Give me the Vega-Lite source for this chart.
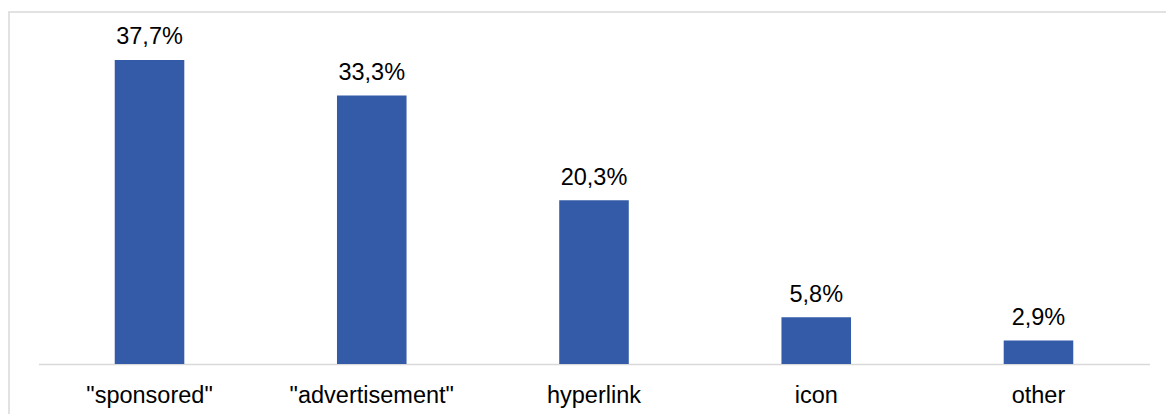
{
  "$schema": "https://vega.github.io/schema/vega-lite/v6.json",
  "width": 1167,
  "height": 412,
  "autosize": {"type": "none"},
  "padding": {"left": 9, "top": 12, "right": -10, "bottom": -10},
  "background": "white",
  "config": {
    "view": {"stroke": "#d9d9d9", "strokeWidth": 1.5},
    "font": "Liberation Sans",
    "locale": {
      "number": {"decimal": ",", "thousands": ".", "grouping": [3], "currency": ["", " €"]}
    }
  },
  "data": {
    "values": [
      {"label": "\"sponsored\"", "share": 0.377},
      {"label": "\"advertisement\"", "share": 0.333},
      {"label": "hyperlink", "share": 0.203},
      {"label": "icon", "share": 0.058},
      {"label": "other", "share": 0.029}
    ]
  },
  "encoding": {
    "x": {
      "field": "label",
      "type": "nominal",
      "sort": null,
      "scale": {"range": [29.4, 1140.6], "paddingInner": 0.687, "paddingOuter": 0.3435},
      "axis": {
        "title": null,
        "offset": -60,
        "ticks": false,
        "domainColor": "#d9d9d9",
        "domainWidth": 1.5,
        "labelAngle": 0,
        "labelBaseline": "alphabetic",
        "labelPadding": 38,
        "labelFontSize": 23.5,
        "labelColor": "#000000",
        "labelFont": "Liberation Sans"
      }
    },
    "y": {
      "field": "share",
      "type": "quantitative",
      "scale": {"domain": [0, 0.4365], "range": [352, 0], "nice": false, "zero": true},
      "axis": null
    }
  },
  "layer": [
    {"mark": {"type": "bar", "color": "#335BA8"}},
    {
      "mark": {
        "type": "text",
        "baseline": "alphabetic",
        "dy": -15.5,
        "fontSize": 23.5,
        "color": "#000000",
        "font": "Liberation Sans"
      },
      "encoding": {"text": {"field": "share", "type": "quantitative", "format": ".1%"}}
    }
  ]
}
